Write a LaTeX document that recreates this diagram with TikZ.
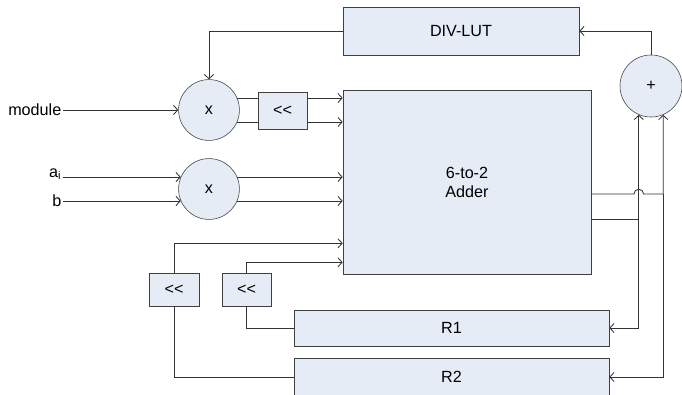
\documentclass[tikz,border=0pt]{standalone}
\usepackage{fontspec}
\setmainfont{Liberation Sans}
\usetikzlibrary{arrows.meta, positioning}
\usepackage{xcolor}
\definecolor{blockfill}{HTML}{E5ECF6}

\begin{document}
\begin{tikzpicture}[
  x=0.025cm, y=-0.025cm,
  box/.style={
    draw=black!75,
    fill=blockfill,
    rectangle,
    align=center,
    inner sep=0pt,
    font=\fontsize{11.5}{13.5}\selectfont
  },
  op/.style={
    draw=black!75,
    fill=blockfill,
    circle,
    inner sep=0pt,
    minimum size=1.52cm,
    font=\fontsize{11.5}{13.5}\selectfont
  },
  lbl/.style={inner sep=1pt, font=\fontsize{11.5}{13.5}\selectfont},
  wire/.style={draw=black!80, line width=0.6pt},
  arrow/.style={wire, -{Straight Barb[length=3pt,width=6.5pt]}}
]

\useasboundingbox (0,0) rectangle (682,394);

\node[box, minimum width=5.9cm, minimum height=1.2cm] (divlut) at (461,31) {DIV-LUT};
\node[op, minimum size=1.55cm] (plus) at (651,86) {+};
\node[op] (mulA) at (209,110) {x};
\node[box, minimum width=1.225cm, minimum height=0.925cm] (shA) at (282.5,110.5) {<{}<};
\node[op] (mulB) at (209,189) {x};
\node[box, minimum width=6.2cm, minimum height=4.6cm] (adder) at (467,182) {6-to-2\\Adder};
\node[box, minimum width=1.25cm, minimum height=0.825cm] (shB) at (174,289.5) {<{}<};
\node[box, minimum width=1.225cm, minimum height=0.825cm] (shC) at (246.5,289.5) {<{}<};
\node[box, minimum width=7.875cm, minimum height=0.9cm] (rone) at (451.5,328) {R1};
\node[box, minimum width=7.875cm, minimum height=0.95cm] (rtwo) at (451.5,377) {R2};

\node[lbl, anchor=east] (modin) at (63,110) {module};
\node[lbl, anchor=east] (ain) at (63,174) {a\textsubscript{i}};
\node[lbl, anchor=east] (bin) at (63,201) {b};

\coordinate (inE) at ([yshift=7.75mm]adder.south west);
\coordinate (inF) at ([yshift=3mm]adder.south west);
\coordinate (outA) at ([yshift=-3mm]adder.east);
\coordinate (outB) at ([yshift=-9.25mm]adder.east);

\draw[arrow] (plus.north) |- (divlut.east);
\draw[arrow] (divlut.west) -| (mulA.north);
\draw[arrow] (modin.east) -- (mulA.west);
\draw[arrow] (mulB.157 -| ain.east) -- (mulB.157);
\draw[arrow] (mulB.-157 -| bin.east) -- (mulB.-157);

\draw[wire] (mulA.23) -- (mulA.23 -| shA.west);
\draw[wire] (mulA.-23) -- (mulA.-23 -| shA.west);
\draw[arrow] (mulA.23 -| shA.east) -- (mulA.23 -| adder.west);
\draw[arrow] (mulA.-23 -| shA.east) -- (mulA.-23 -| adder.west);
\draw[arrow] (mulB.23) -- (mulB.23 -| adder.west);
\draw[arrow] (mulB.-23) -- (mulB.-23 -| adder.west);

\draw[wire] (rone.west) -| (shC.south);
\draw[arrow] (shC.north) |- (inF);
\draw[wire] (rtwo.west) -| (shB.south);
\draw[arrow] (shB.north) |- (inE);

\draw[arrow] (outB) -| (plus.-113);
\draw[arrow] (plus.-113 |- outB) |- (rone.east);
\draw[arrow] (outA) -- ([xshift=-1.2mm]plus.-113 |- outA)
  arc[start angle=180, end angle=0, radius=1.2mm] -| (plus.-67);
\draw[arrow] (plus.-67 |- outA) |- (rtwo.east);

\end{tikzpicture}
\end{document}
